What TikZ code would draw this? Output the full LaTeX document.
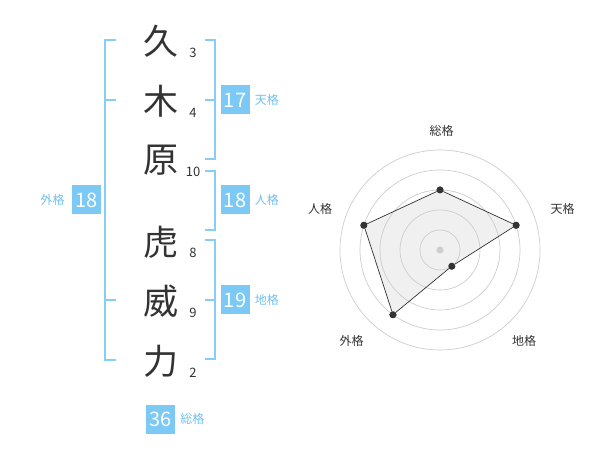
\documentclass[tikz,border=0pt]{standalone}
\usepackage{fontspec}
\setmainfont{Noto Sans CJK JP}
\usetikzlibrary{positioning}
\definecolor{kakublue}{RGB}{125,201,246}
\definecolor{kakuline}{RGB}{135,206,246}
\definecolor{kakutext}{RGB}{112,192,240}
\definecolor{inkgray}{RGB}{51,51,51}
\definecolor{ringgray}{RGB}{205,205,205}
\definecolor{areagray}{RGB}{240,240,240}
\tikzset{
  kanji/.style={inner sep=0mm, text=inkgray, font=\fontsize{35}{35}\selectfont
  },
  stroke/.style={inner sep=0mm, text=inkgray, font=\fontsize{13}{13}\selectfont
  },
  kakubox/.style={
    fill=kakublue, text=white, minimum height=29pt, minimum width=29pt, inner sep=0mm,
    font=\fontsize{20}{20}\selectfont
  },
  kakulabel/.style={inner sep=0mm, text=kakutext, font=\fontsize{12}{12}\selectfont
  },
  bracket/.style={draw=kakuline, line width=2pt
  },
  ring/.style={draw=ringgray, line width=0.7pt
  },
  dot/.style={circle, fill=inkgray, minimum size=7pt, inner sep=0mm
  },
  axislabel/.style={inner sep=0mm, text=inkgray, font=\fontsize{12}{12}\selectfont
  }
}

\begin{document}
\begin{tikzpicture}[x=1pt, y=-1pt]
  \useasboundingbox (0,0) rectangle (600,470);
  \begin{scope}
   % name characters and stroke counts
   \node[kanji] (ku) at (160.5, 41) {久};
   \node[kanji] (ki) at (160.5, 101) {木};
   \node[kanji] (hara) at (160.5, 160) {原};
   \node[kanji] (tora) at (160.5, 242) {虎};
   \node[kanji] (i) at (160.5, 301) {威};
   \node[kanji] (chikara) at (160.5, 361) {力};
   \node[stroke] (nku) at (193, 53) {3};
   \node[stroke] (nki) at (193, 113) {4};
   \node[stroke] (nhara) at (193, 172) {10};
   \node[stroke] (ntora) at (193, 253) {8};
   \node[stroke] (ni) at (193, 313) {9};
   \node[stroke] (nchikara) at (193, 373) {2};

   % brackets
   \draw[bracket] (116, 40) -- (105, 40) -- (105, 360) -- (116, 360);
   \draw[bracket] (105, 100) -- (116, 100);
   \draw[bracket] (105, 300) -- (116, 300);
   \draw[bracket] (205, 40) -- (215, 40) -- (215, 159) -- (205, 159);
   \draw[bracket] (215, 100) -- (205, 100);
   \draw[bracket] (205, 171) -- (215, 171) -- (215, 230) -- (205, 230);
   \draw[bracket] (205, 240) -- (215, 240) -- (215, 359) -- (205, 359);
   \draw[bracket] (215, 300) -- (205, 300);

   % counts
   \node[kakubox] (gai) at (86.5, 200) {18};
   \node[kakulabel, left=7pt of gai] (gail) {外格};
   \node[kakubox] (ten) at (235, 100) {17};
   \node[kakulabel, right=5pt of ten] (tenl) {天格};
   \node[kakubox] (jin) at (235, 200) {18};
   \node[kakulabel, right=5pt of jin] (jinl) {人格};
   \node[kakubox] (chi) at (235, 300) {19};
   \node[kakulabel, right=5pt of chi] (chil) {地格};
   \node[kakubox] (so) at (160.5, 419) {36};
   \node[kakulabel, right=5pt of so] (sol) {総格};
 \end{scope}
  \begin{scope}
   \coordinate (ctr) at (440, 250);
   \node[dot] (pso) at ([shift={(90:60pt)}]ctr) {};
   \node[dot] (pten) at ([shift={(18:80pt)}]ctr) {};
   \node[dot] (pchi) at ([shift={(-54:20pt)}]ctr) {};
   \node[dot] (pgai) at ([shift={(-126:80pt)}]ctr) {};
   \node[dot] (pjin) at ([shift={(162:80pt)}]ctr) {};

   \fill[areagray]
     (pso.center) -- (pten.center) -- (pchi.center) -- (pgai.center) -- (pjin.center) -- cycle;
   \foreach \r in {20,40,60,80,100}
     \draw[ring] (ctr) circle[radius=\r pt];
   \fill[ringgray] (ctr) circle[radius=3.5pt];
   \draw[inkgray, line width=0.7pt]
     (pso) -- (pten) -- (pchi) -- (pgai) -- (pjin) -- (pso);
   \node[dot] at (pso) {};
   \node[dot] at (pten) {};
   \node[dot] at (pchi) {};
   \node[dot] at (pgai) {};
   \node[dot] at (pjin) {};

   \node[axislabel] (lso) at (441.5, 130.5) {総格};
   \node[axislabel] (lten) at (562.5, 208.5) {天格};
   \node[axislabel] (lchi) at (524, 341) {地格};
   \node[axislabel] (lgai) at (351.5, 341) {外格};
   \node[axislabel] (ljin) at (320, 208.5) {人格};
 \end{scope}
\end{tikzpicture}
\end{document}
